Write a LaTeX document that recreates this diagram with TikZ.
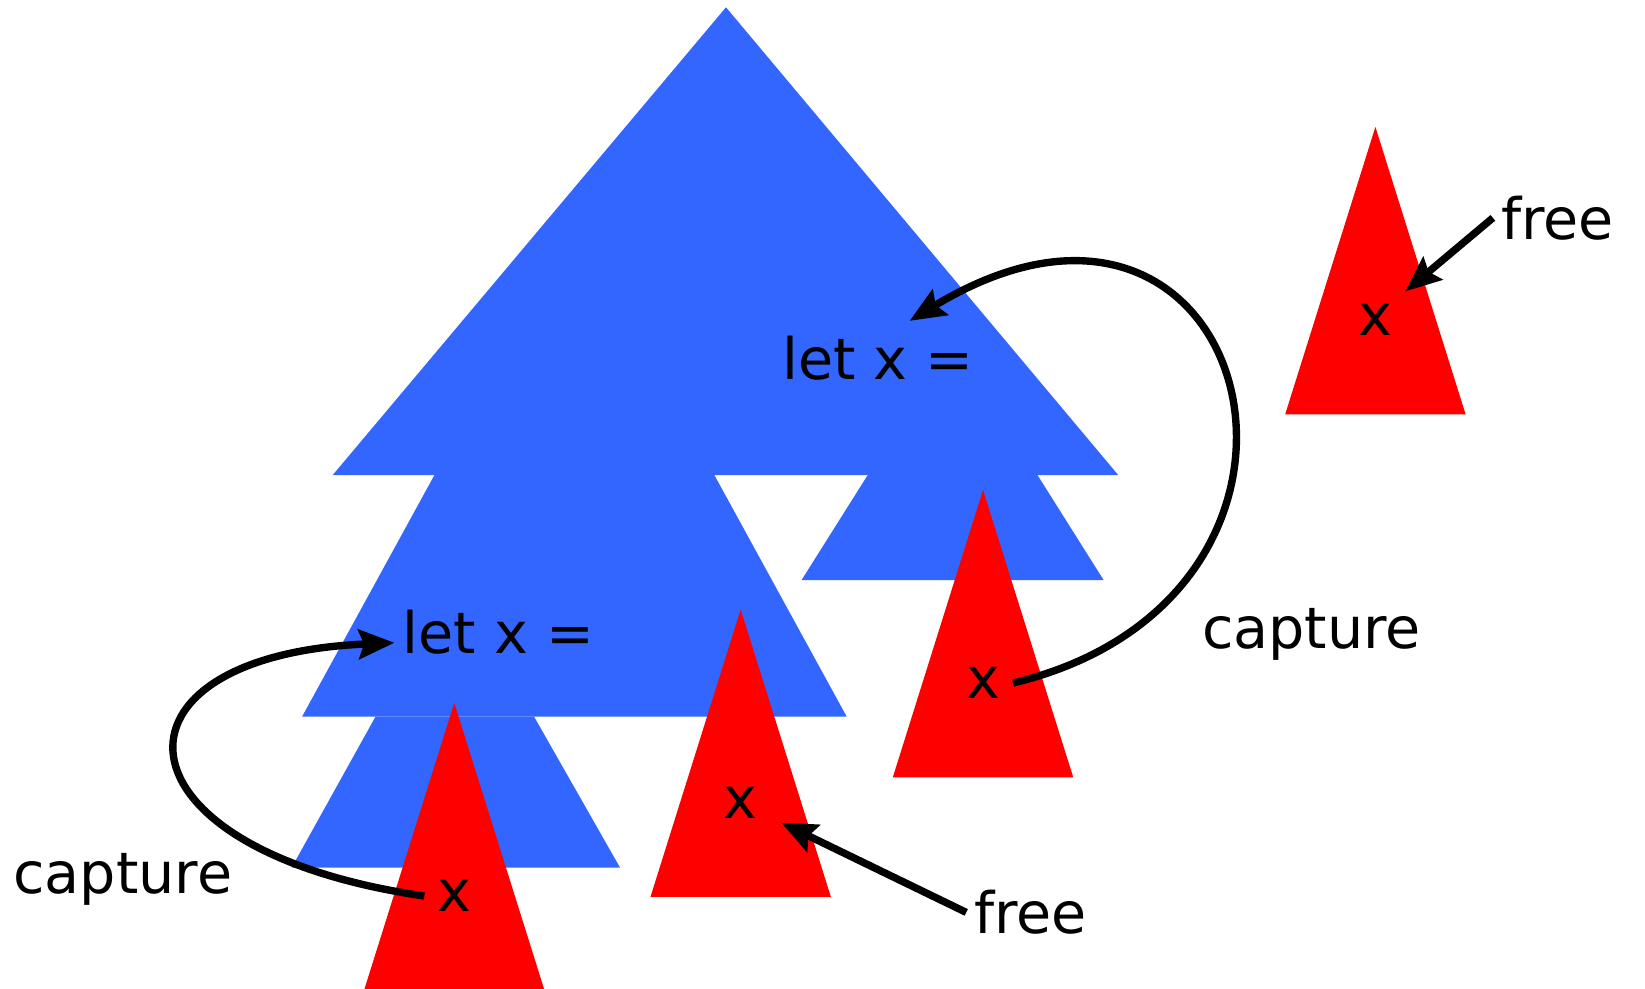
\documentclass[tikz,border=0pt]{standalone}
\usepackage{fontspec}
\setmainfont{DejaVu Sans}
\usetikzlibrary{arrows.meta,calc}
\definecolor{treeblue}{RGB}{51,102,255}
\definecolor{treered}{RGB}{255,0,0}

\begin{document}
\begin{tikzpicture}[
    blue tree/.style={fill=treeblue},
    red tree/.style={fill=treered},
    word/.style={font=\fontsize{15.5}{18}\selectfont, inner sep=2pt, anchor=base west},
    var/.style={font=\fontsize{15.5}{18}\selectfont, anchor=base},
    link/.style={line width=2pt, -{Stealth[length=3.4mm,width=2.8mm,inset=0.5mm]}}
  ]
            \useasboundingbox (0,0) rectangle (15.68,9.42);
            \fill[blue tree] (3.17,4.89) -- (6.92,9.35) -- (10.66,4.89) -- cycle;
            \fill[blue tree] (4.14,4.89) -- (6.81,4.89) -- (8.07,2.59) -- (2.88,2.59) -- cycle;
            \fill[blue tree] (3.58,2.59) -- (5.09,2.59) -- (5.91,1.15) -- (2.78,1.15) -- cycle;
            \fill[blue tree] (8.27,4.89) -- (9.89,4.89) -- (10.52,3.89) -- (7.64,3.89) -- cycle;
            \foreach \cx/\by/\n in {4.33/-0.02/a, 7.06/0.87/b, 9.37/2.01/c, 13.11/5.47/d} {
                \fill[red tree] (\cx-0.86,\by) -- (\cx,\by+2.74) -- (\cx+0.86,\by) -- cycle;
                \node[var] (x\n) at (\cx,\by+0.75) {x};
            }
            \node[word] (leta) at (7.38,5.80) {let x =};
            \node[word] (letb) at (3.76,3.19) {let x =};
            \node[word] (capa) at (11.38,3.24) {capture};
            \node[word] (capb) at (0.05,0.90) {capture};
            \node[word] (freea) at (14.23,7.14) {free};
            \node[word] (freeb) at (9.21,0.52) {free};
            \draw[link] (xc.east) .. controls (13.15,3.75) and (11.95,8.35) .. ($(leta.north)+(0.3,0.07)$);
            \draw[link] (xa.west) .. controls (1.00,1.32) and (0.90,3.17) .. ($(letb.west)+(0,-0.1)$);
            \draw[link] (freeb.west) -- ($(xb.east)+(0.1,-0.19)$);
            \draw[link] (freea.west) -- (xd.north east);
        \end{tikzpicture}
\end{document}
